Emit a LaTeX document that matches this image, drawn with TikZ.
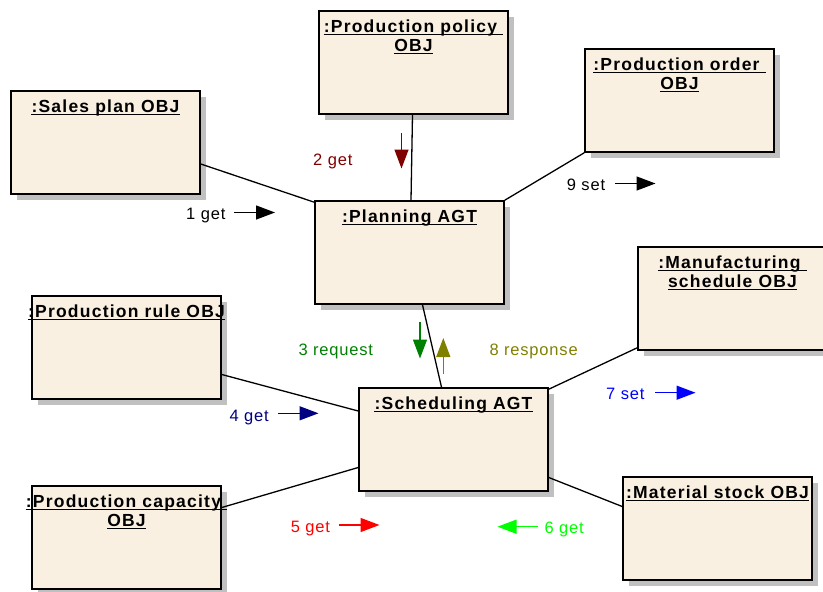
\documentclass[tikz,border=0pt]{standalone}
\usepackage{fontspec}
\setmainfont{Liberation Sans}
\newfontfamily\titlefont{Liberation Sans}[LetterSpace=7]
\newfontfamily\labelfont{Liberation Sans}[LetterSpace=5]
\usetikzlibrary{arrows.meta,calc,shadows}

\definecolor{boxfill}{RGB}{250,240,226}
\definecolor{shadowgrey}{RGB}{192,192,192}
\definecolor{msgdarkred}{RGB}{128,0,0}
\definecolor{msggreen}{RGB}{0,128,0}
\definecolor{msgolive}{RGB}{128,128,0}
\definecolor{msgnavy}{RGB}{0,0,128}
\definecolor{msgblue}{RGB}{0,0,255}
\definecolor{msgred}{RGB}{255,0,0}
\definecolor{msglime}{RGB}{0,255,0}

\begin{document}
\begin{tikzpicture}[x=1pt,y=-1pt,
  objbox/.style={draw=black, line width=1.6pt, fill=boxfill,
    minimum width=189pt, minimum height=103pt, inner sep=0pt,
    drop shadow={shadow xshift=6pt, shadow yshift=-6pt, fill=shadowgrey, opacity=1}},
  objtitle/.style={font=\titlefont\bfseries\fontsize{17.5}{19}\selectfont,
    inner sep=0pt, anchor=base,
    append after command={([yshift=-2.5pt]\tikzlastnode.base west)
      edge[line width=1.5pt] ([yshift=-2.5pt]\tikzlastnode.base east)}},
  link/.style={draw=black, line width=1.3pt},
  msg/.style={line width=1.4pt, -{Triangle[length=19pt,width=14pt]}},
  msglabel/.style={font=\labelfont\fontsize{16.5}{18}\selectfont, inner sep=0pt}
]
\useasboundingbox (0,0) rectangle (823,592);

% object boxes
\node[objbox] (policy)   at (413.5,62.5)  {};
\node[objbox] (sales)    at (105.5,142.5) {};
\node[objbox] (order)    at (679.5,100.5) {};
\node[objbox] (planning) at (409.5,252.5) {};
\node[objbox] (manuf)    at (732.5,298.5) {};
\node[objbox] (rule)     at (126.5,347.5) {};
\node[objbox] (sched)    at (453.5,439.5) {};
\node[objbox] (capacity) at (126.5,537.5) {};
\node[objbox] (stock)    at (717.5,528.5) {};

% underlined titles (a trailing space keeps the underline running past the last word)
\node[objtitle] (policyT1)   at ([yshift=-22pt]policy.north)   {:Production policy\ \null};
\node[objtitle] (policyT2)   at ([yshift=-41pt]policy.north)   {OBJ};
\node[objtitle] (salesT)     at ([yshift=-22pt]sales.north)    {:Sales plan OBJ};
\node[objtitle] (orderT1)    at ([yshift=-22pt]order.north)    {:Production order\ \null};
\node[objtitle] (orderT2)    at ([yshift=-41pt]order.north)    {OBJ};
\node[objtitle] (planningT)  at ([yshift=-22pt]planning.north) {:Planning AGT};
\node[objtitle] (manufT1)    at ([yshift=-22pt]manuf.north)    {:Manufacturing\ \null};
\node[objtitle] (manufT2)    at ([yshift=-41pt]manuf.north)    {schedule OBJ};
\node[objtitle] (ruleT)      at ([yshift=-22pt]rule.north)     {:Production rule OBJ};
\node[objtitle] (schedT)     at ([yshift=-22pt]sched.north)    {:Scheduling AGT};
\node[objtitle] (capacityT1) at ([yshift=-22pt]capacity.north) {:Production capacity\ \null};
\node[objtitle] (capacityT2) at ([yshift=-41pt]capacity.north) {OBJ};
\node[objtitle] (stockT)     at ([yshift=-22pt]stock.north)    {:Material stock OBJ};

% links
\draw[link] ([yshift=-21.5pt]sales.east) -- ([yshift=-2pt]planning.north west);
\draw[link] ([xshift=-1pt]policy.south) -- ([xshift=1.5pt]planning.north);
\draw[link] (planning.north east) -- (order.south west);
\draw[link] ([xshift=13pt]planning.south) -- ([xshift=-12pt]sched.north);
\draw[link] ([yshift=-27pt]rule.east) -- ([yshift=28.5pt]sched.west);
\draw[link] ([yshift=-2pt]sched.north east) -- ([yshift=3pt]manuf.south west);
\draw[link] ([yshift=30pt]capacity.east) -- ([yshift=-28pt]sched.west);
\draw[link] ([yshift=-38pt]sched.east) -- ([yshift=22pt]stock.west);

% messages
\coordinate (m1a) at (234,212.5);   \coordinate (m1b) at (275,212.5);
\coordinate (m2a) at (401.5,133);   \coordinate (m2b) at (401.5,168.5);
\coordinate (m3a) at (420,322);     \coordinate (m3b) at (420,358.5);
\coordinate (m4a) at (278,413.3);   \coordinate (m4b) at (318.5,413.3);
\coordinate (m5a) at (339,525);     \coordinate (m5b) at (379.5,525);
\coordinate (m6a) at (537.5,526.7); \coordinate (m6b) at (497.5,526.7);
\coordinate (m7a) at (655,392.7);   \coordinate (m7b) at (695.5,392.7);
\coordinate (m8a) at (443.3,373.5); \coordinate (m8b) at (443.3,338);
\coordinate (m9a) at (615,183.5);   \coordinate (m9b) at (655.5,183.5);

\draw[msg, black]      (m1a) -- (m1b);
\draw[msg, msgdarkred] (m2a) -- (m2b);
\draw[msg, msggreen]   (m3a) -- (m3b);
\draw[msg, msgnavy]    (m4a) -- (m4b);
\draw[msg, msgred]     (m5a) -- (m5b);
\draw[msg, msglime]    (m6a) -- (m6b);
\draw[msg, msgblue]    (m7a) -- (m7b);
\draw[msg, msgolive]   (m8a) -- (m8b);
\draw[msg, black]      (m9a) -- (m9b);

\node[msglabel, anchor=base west, text=black]      (l1) at (186,219)   {1 get};
\node[msglabel, anchor=base west, text=msgdarkred] (l2) at (313,165.7) {2 get};
\node[msglabel, anchor=base west, text=msggreen]   (l3) at (298.3,355) {3 request};
\node[msglabel, anchor=base west, text=msgnavy]    (l4) at (229.3,421) {4 get};
\node[msglabel, anchor=base west, text=msgred]     (l5) at (290.7,532.3) {5 get};
\node[msglabel, anchor=base west, text=msglime]    (l6) at (544.3,533.3) {6 get};
\node[msglabel, anchor=base west, text=msgblue]    (l7) at (606,399.3) {7 set};
\node[msglabel, anchor=base west, text=msgolive]   (l8) at (489.3,355) {8 response};
\node[msglabel, anchor=base west, text=black]      (l9) at (566.7,190) {9 set};
\end{tikzpicture}
\end{document}
